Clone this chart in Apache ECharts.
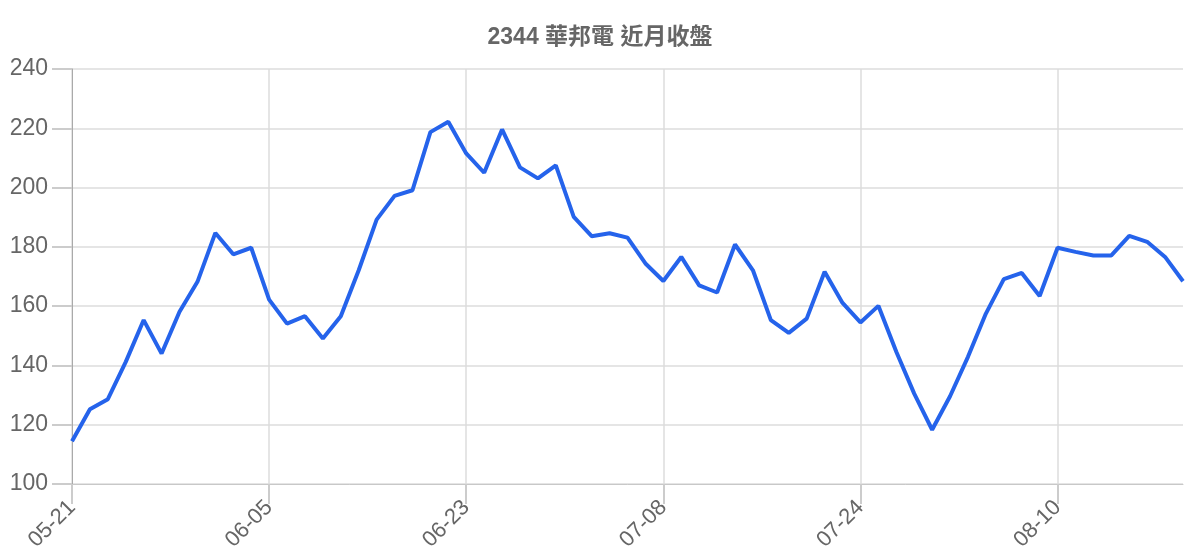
<!DOCTYPE html>
<html>
<head>
<meta charset="utf-8">
<script src="https://cdn.jsdelivr.net/npm/echarts@6/dist/echarts.min.js"></script>
<style>
html,body{margin:0;padding:0;background:#fff;}
#chart{width:1200px;height:560px;}
</style>
</head>
<body>
<div id="chart"></div>
<script>
// 華邦電 近月收盤
var title = '2344 華邦電 近月收盤';
var dates = [
	'05-21','05-22','05-25','05-26','05-27','05-28','05-29','06-01','06-02','06-03','06-04',
	'06-05','06-08','06-09','06-10','06-11','06-12','06-15','06-16','06-17','06-18','06-22',
	'06-23','06-24','06-25','06-26','06-29','06-30','07-01','07-02','07-03','07-06','07-07',
	'07-08','07-09','07-10','07-13','07-14','07-15','07-16','07-17','07-20','07-21','07-23',
	'07-24','07-27','07-28','07-29','07-30','07-31','08-03','08-04','08-05','08-06','08-07',
	'08-10','08-11','08-12','08-13','08-14','08-17','08-18','08-19'
];
var closes = [
	114.4,125.2,128.6,141.2,155.3,144,158.1,168.2,184.7,177.5,179.7,
	162.2,154.1,156.6,149.1,156.6,172.1,189.2,197.2,199.1,218.7,222.2,
	211.5,205,219.6,206.8,203.1,207.5,190.1,183.6,184.6,183.1,174.4,
	168.5,176.6,167,164.6,180.8,172.1,155.3,151,155.8,171.6,161.1,
	154.5,160.1,144.6,130.5,118.3,129.6,142.9,157.5,169.1,171.2,163.4,
	179.7,178.3,177.1,177.1,183.7,181.7,176.6,168.4
];

var mycharts = echarts.init(document.getElementById('chart'));
var option = {
	animation: false,
	title: {
		text: title,
		left: 'center',
		top: 21,
		textStyle: {
			color: '#666',
			fontSize: 23,
			fontWeight: 'bold',
			fontFamily: '"Liberation Sans","Noto Sans CJK TC",sans-serif'
		}
	},
	grid: {
		left: 72,
		right: 17,
		top: 69,
		bottom: 76
	},
	xAxis: {
		type: 'category',
		boundaryGap: false,
		data: dates,
		axisLine: { show: true, lineStyle: { color: '#c8c8c8' } },
		axisTick: {
			show: true,
			interval: 10,
			length: 20,
			lineStyle: { color: '#cccccc', width: 2 }
		},
		axisLabel: {
			interval: 10,
			rotate: 45,
			margin: 20,
			color: '#666',
			fontSize: 22,
			fontFamily: '"Liberation Sans",sans-serif'
		},
		splitLine: {
			show: true,
			interval: 10,
			lineStyle: { color: '#dcdcdc', width: 1.5 }
		}
	},
	yAxis: {
		type: 'value',
		min: 100,
		max: 240,
		interval: 20,
		axisLine: { show: true, lineStyle: { color: '#aaa' } },
		axisTick: {
			show: true,
			length: 20,
			lineStyle: { color: '#cccccc', width: 2 }
		},
		axisLabel: {
			margin: 24,
			color: '#666',
			fontSize: 23,
			fontFamily: '"Liberation Sans",sans-serif'
		},
		splitLine: { lineStyle: { color: '#dcdcdc', width: 1.5 } }
	},
	series: [{
		name: title,
		type: 'line',
		data: closes,
		symbol: 'none',
		lineStyle: { color: '#2563eb', width: 4 },
		itemStyle: { color: '#2563eb' }
	}]
};
mycharts.setOption(option);
</script>
</body>
</html>
